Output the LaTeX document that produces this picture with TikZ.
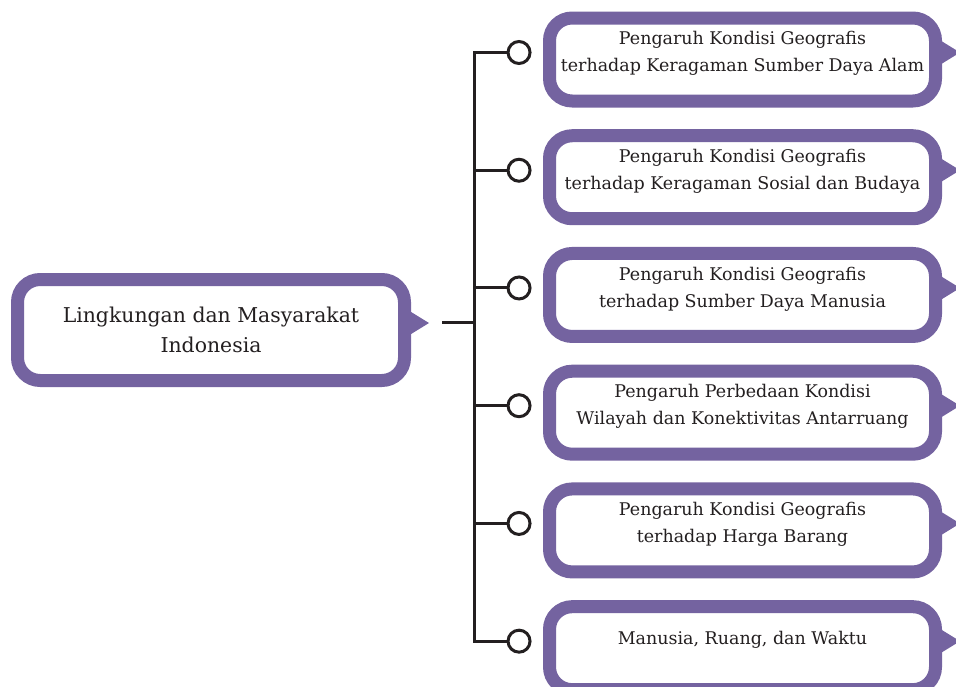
\documentclass[tikz,border=0pt]{standalone}
\usepackage{fontspec}
\setmainfont{DejaVu Serif}
\usepackage{xcolor}
\usetikzlibrary{calc,positioning}
\definecolor{boxpurple}{HTML}{7463A0}
\definecolor{inkline}{HTML}{231F20}
\tikzstyle{link}=[draw=inkline, line width=2.25pt]
\tikzset{
    topicbox/.style={draw=boxpurple, fill=white, line width=9.75pt, rounded corners=17pt,
        align=center, text=inkline, inner sep=0pt},
    mainbox/.style={topicbox, minimum width=290.25pt, minimum height=75.75pt,
        font=\fontsize{15.3}{22.5}\selectfont},
    subbox/.style={topicbox, minimum width=289.5pt, minimum height=62.25pt, text depth=12pt,
        font=\fontsize{13.1}{20.25}\selectfont},
    knob/.style={circle, draw=inkline, fill=white, line width=2.25pt, minimum size=16.5pt, inner sep=0pt}
}
% pointer on the right side of a box
\newcommand{\boxtip}[1]{\fill[boxpurple] ($(#1.east)+(-8,-23)$) -- ($(#1.east)+(18,-7)$) -- ($(#1.east)+(-8,9)$) -- cycle;}

\begin{document}
\begin{tikzpicture}[x=0.75pt, y=-0.75pt]
  \useasboundingbox (0,0) rectangle (956,686);

      \node [mainbox] (L) at (211,330) {Lingkungan dan Masyarakat\\Indonesia};
      \boxtip{L}

      \node [subbox] (r1) at (742.5,59.5) {Pengaruh Kondisi Geografis\\terhadap Keragaman Sumber Daya Alam};
      \node [subbox, below=16.3pt of r1] (r2) {Pengaruh Kondisi Geografis\\terhadap Keragaman Sosial dan Budaya};
      \node [subbox, below=16.3pt of r2] (r3) {Pengaruh Kondisi Geografis\\terhadap Sumber Daya Manusia};
      \node [subbox, below=16.3pt of r3] (r4) {Pengaruh Perbedaan Kondisi\\Wilayah dan Konektivitas Antarruang};
      \node [subbox, below=16.3pt of r4] (r5) {Pengaruh Kondisi Geografis\\terhadap Harga Barang};
      \node [subbox, below=16.3pt of r5, text depth=15pt] (r6) {Manusia, Ruang, dan Waktu};
      \boxtip{r1} \boxtip{r2} \boxtip{r3} \boxtip{r4} \boxtip{r5} \boxtip{r6}

      % connectors
      \coordinate (stub) at (442,322);
      \coordinate (hub) at (474,322);
      \node [knob, left=8.6pt of r1, yshift=5.25pt] (c1) {};
      \node [knob, left=8.6pt of r2, yshift=5.25pt] (c2) {};
      \node [knob, left=8.6pt of r3, yshift=5.25pt] (c3) {};
      \node [knob, left=8.6pt of r4, yshift=5.25pt] (c4) {};
      \node [knob, left=8.6pt of r5, yshift=5.25pt] (c5) {};
      \node [knob, left=8.6pt of r6, yshift=5.25pt] (c6) {};

      \draw [link] (stub) -- (hub);
      \draw [link] (c1.west) -- (c1 -| hub) -- (c6 -| hub) -- (c6.west);
      \draw [link] (c2 -| hub) -- (c2.west);
      \draw [link] (c3 -| hub) -- (c3.west);
      \draw [link] (c4 -| hub) -- (c4.west);
      \draw [link] (c5 -| hub) -- (c5.west);

\end{tikzpicture}
\end{document}
